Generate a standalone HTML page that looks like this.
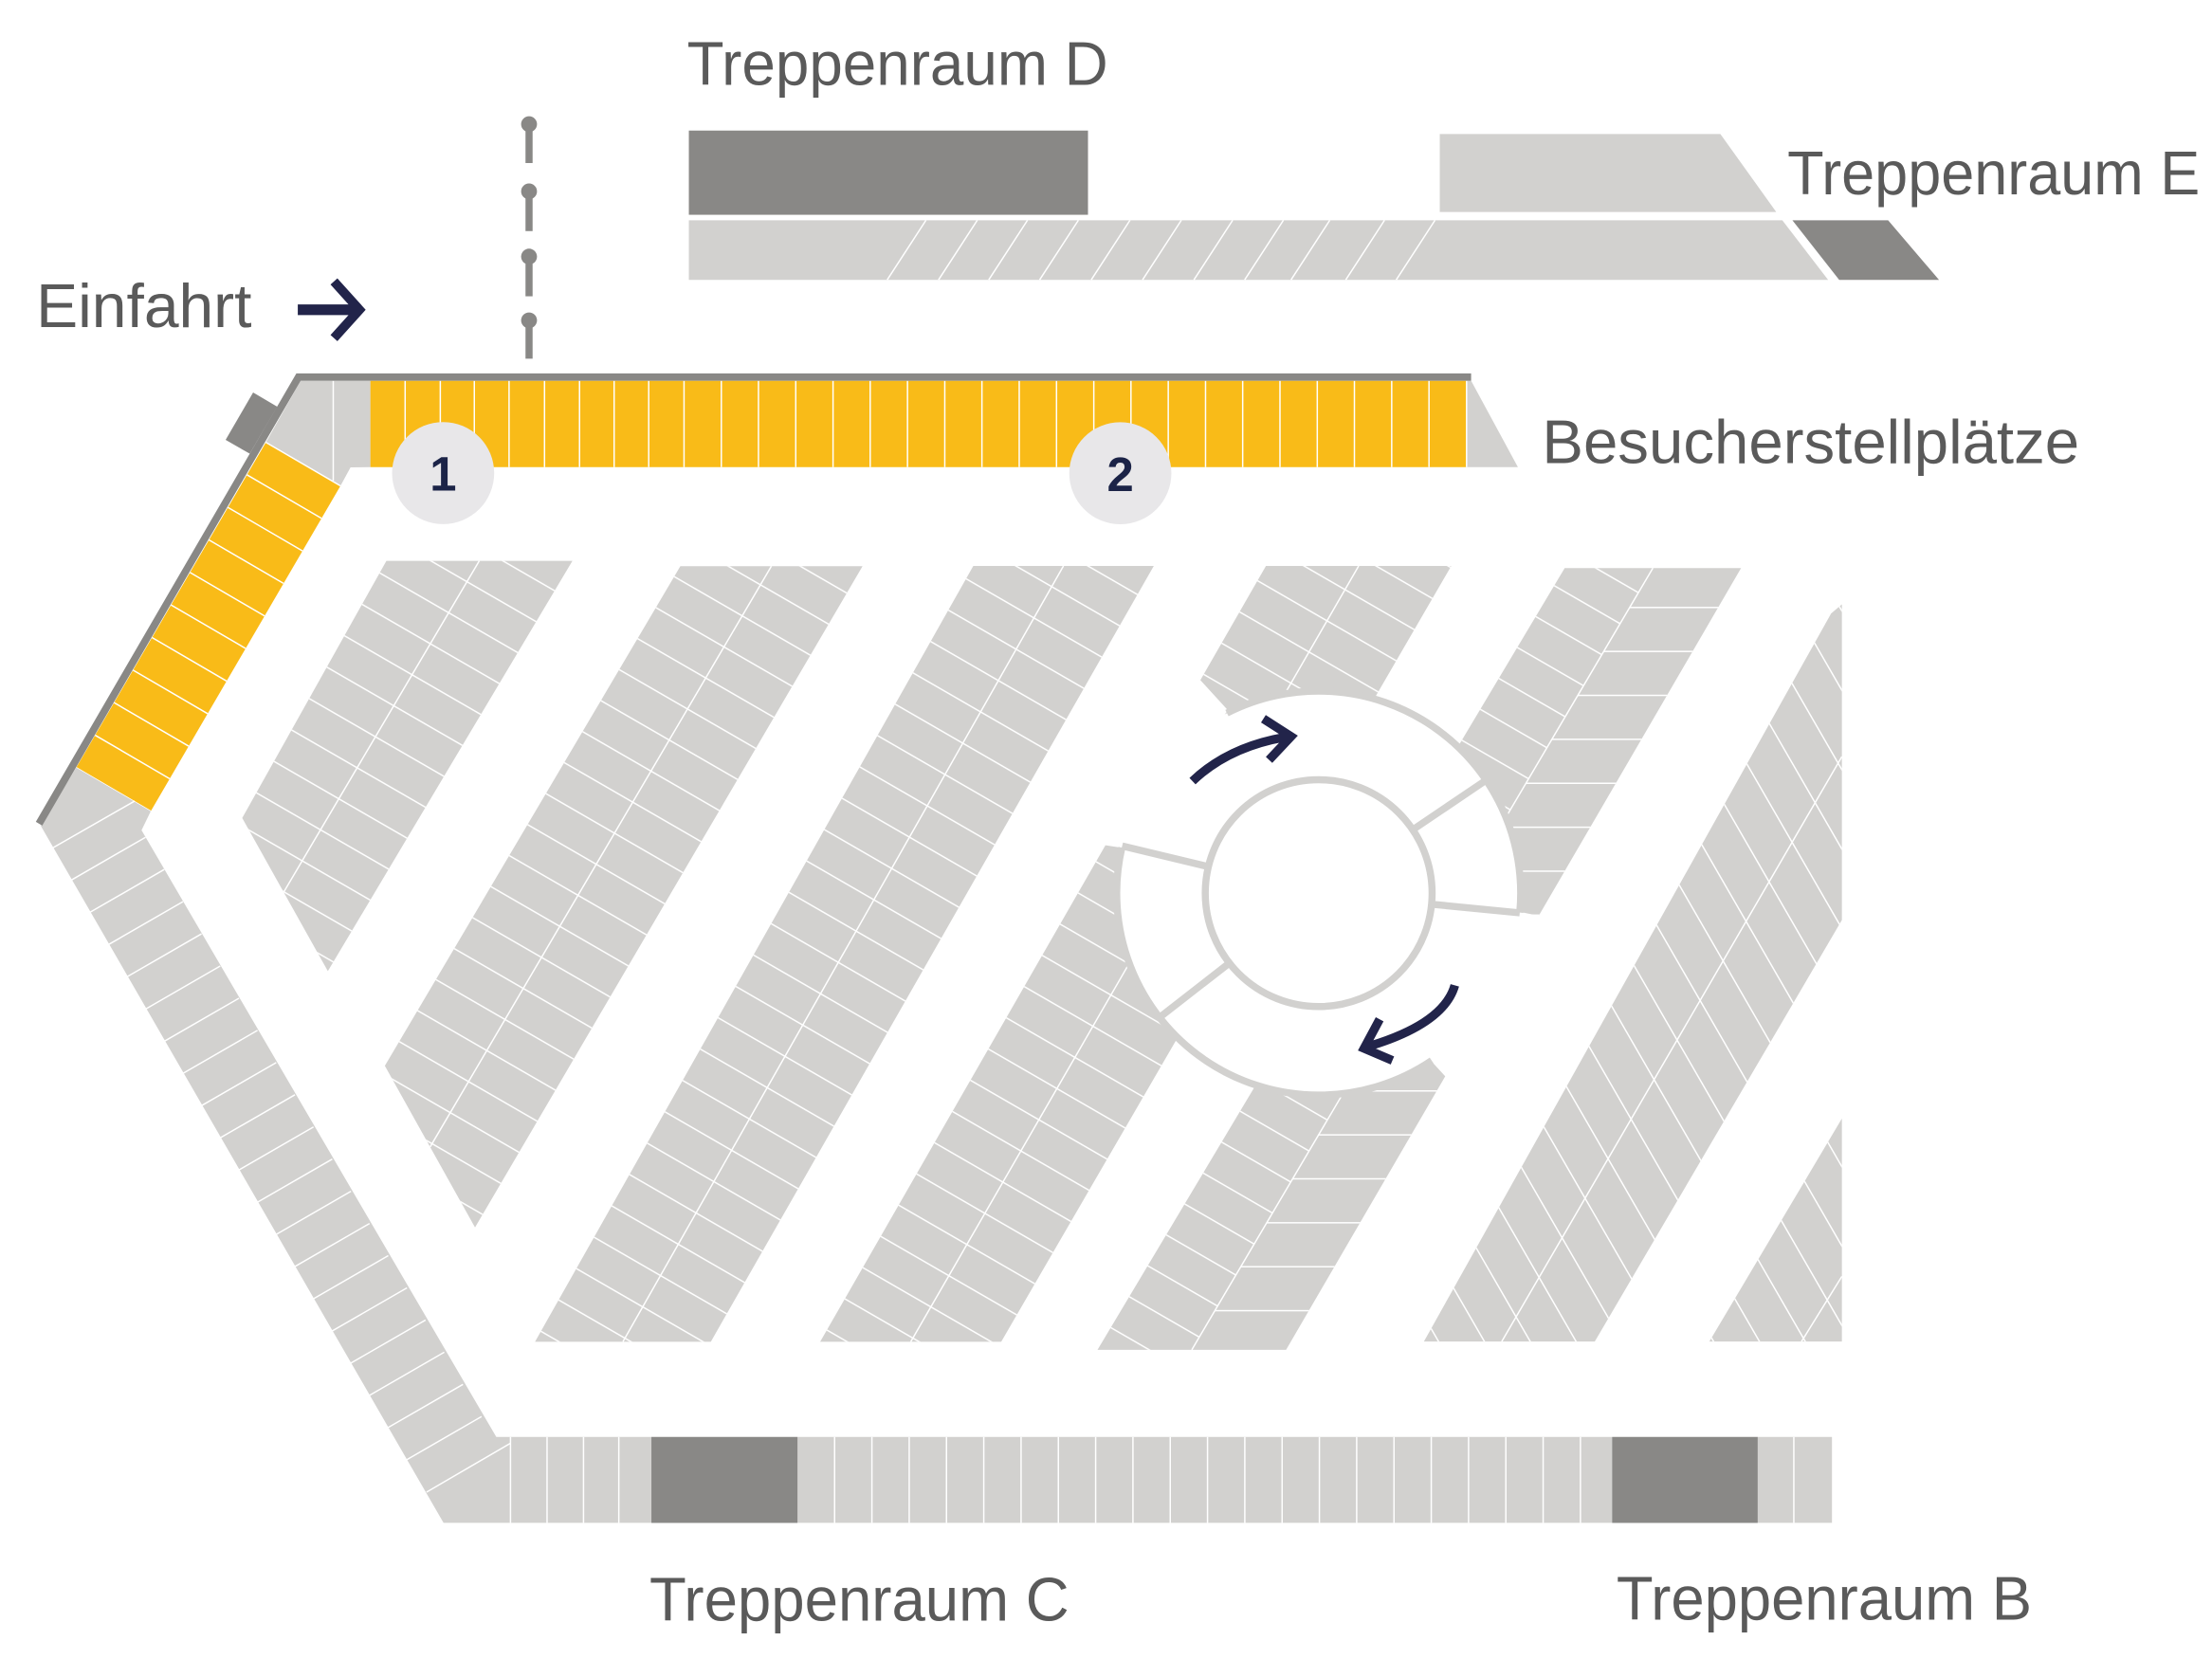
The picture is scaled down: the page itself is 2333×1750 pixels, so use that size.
<!DOCTYPE html>
<html><head><meta charset="utf-8"><style>html,body{margin:0;padding:0;background:#fff;}svg{display:block}</style></head>
<body>
<svg xmlns="http://www.w3.org/2000/svg" width="2333" height="1750" viewBox="0 0 1560 1170.2">
<defs>
<pattern id="pp" patternUnits="userSpaceOnUse" width="25.4" height="50" patternTransform="rotate(-60)"><rect x="12" y="0" width="1" height="50" fill="#fff"/></pattern>
<pattern id="ps" patternUnits="userSpaceOnUse" width="28" height="50" patternTransform="rotate(-30)"><rect x="13" y="0" width="1" height="50" fill="#fff"/></pattern>
<pattern id="ph" patternUnits="userSpaceOnUse" width="50" height="31" patternTransform="translate(0,10)"><rect x="0" y="15" width="50" height="1" fill="#fff"/></pattern>
</defs>
<rect width="1560" height="1170.2" fill="#fff"/>

<g font-family="Liberation Sans, Arial, sans-serif" font-size="43.5" fill="#5a5a5a">
<text x="484.5" y="60" textLength="297" lengthAdjust="spacingAndGlyphs">Treppenraum D</text>
<text x="1260.5" y="137.1" textLength="291" lengthAdjust="spacingAndGlyphs">Treppenraum E</text>
<text x="25.5" y="230.7" textLength="152" lengthAdjust="spacingAndGlyphs">Einfahrt</text>
<text x="1087.5" y="326.8" textLength="379" lengthAdjust="spacingAndGlyphs">Besucherstellplätze</text>
<text x="458" y="1143" textLength="296" lengthAdjust="spacingAndGlyphs">Treppenraum C</text>
<text x="1140" y="1142.5" textLength="293" lengthAdjust="spacingAndGlyphs">Treppenraum B</text>
</g>

<rect x="485.8" y="92.1" width="281.5" height="59.4" fill="#898886"/>
<polygon points="1015.4,94.5 1213.3,94.5 1252.7,149.5 1015.4,149.5" fill="#d2d1cf"/>
<polygon points="485.8,155.4 1257,155.4 1289.3,197.4 485.8,197.4" fill="#d2d1cf"/>
<polygon points="1264.1,155.4 1331.6,155.4 1367.5,197.4 1297.1,197.4" fill="#898886"/>
<g stroke="#fff" stroke-width="1">
<line x1="653" y1="155.4" x2="625.7" y2="197.4"/>
<line x1="689.2" y1="155.4" x2="661.9" y2="197.4"/>
<line x1="724.6" y1="155.4" x2="697.3" y2="197.4"/>
<line x1="760.5" y1="155.4" x2="733.2" y2="197.4"/>
<line x1="796.9" y1="155.4" x2="769.6" y2="197.4"/>
<line x1="833.1" y1="155.4" x2="805.8" y2="197.4"/>
<line x1="869.3" y1="155.4" x2="842" y2="197.4"/>
<line x1="905.1" y1="155.4" x2="877.8" y2="197.4"/>
<line x1="937.8" y1="155.4" x2="910.5" y2="197.4"/>
<line x1="976.4" y1="155.4" x2="949.1" y2="197.4"/>
<line x1="1012" y1="155.4" x2="984.7" y2="197.4"/>
</g>

<g fill="#898886">
<circle cx="373.1" cy="87.6" r="5.6"/><rect x="370.6" y="87.6" width="5" height="27.4"/>
<circle cx="373.1" cy="135" r="5.6"/><rect x="370.6" y="135" width="5" height="28"/>
<circle cx="373.1" cy="181" r="5.6"/><rect x="370.6" y="181" width="5" height="28"/>
<circle cx="373.1" cy="226" r="5.6"/><rect x="370.6" y="226" width="5" height="27"/>
</g>

<g stroke="#22244a" fill="none">
<line x1="210" y1="218.5" x2="252" y2="218.5" stroke-width="7.5"/>
<path d="M235.5,198.5 L253.5,218.5 L235.5,238.5" stroke-width="6.5" stroke-linejoin="miter"/>
</g>

<polygon points="212,268.6 261.2,268.6 261.2,329.5 247.2,329.7 240.1,342.7 187.5,312" fill="#d2d1cf"/>
<line x1="235" y1="268.6" x2="235" y2="339" stroke="#fff" stroke-width="1"/>

<rect x="261.2" y="268.6" width="773.1" height="60.9" fill="#f9bb18"/>
<polygon points="1034.3,268.6 1037.5,268.6 1070.5,329.5 1034.3,329.5" fill="#d2d1cf"/>
<g stroke="#fff" stroke-width="1">
<line x1="285.7" y1="268.6" x2="285.7" y2="329.5"/><line x1="310.5" y1="268.6" x2="310.5" y2="329.5"/>
<line x1="334.5" y1="268.6" x2="334.5" y2="329.5"/><line x1="359" y1="268.6" x2="359" y2="329.5"/>
<line x1="384" y1="268.6" x2="384" y2="329.5"/><line x1="408.7" y1="268.6" x2="408.7" y2="329.5"/>
<line x1="433.1" y1="268.6" x2="433.1" y2="329.5"/><line x1="457.5" y1="268.6" x2="457.5" y2="329.5"/>
<line x1="482.4" y1="268.6" x2="482.4" y2="329.5"/><line x1="508.7" y1="268.6" x2="508.7" y2="329.5"/>
<line x1="534.9" y1="268.6" x2="534.9" y2="329.5"/><line x1="561.2" y1="268.6" x2="561.2" y2="329.5"/>
<line x1="587.5" y1="268.6" x2="587.5" y2="329.5"/><line x1="613.7" y1="268.6" x2="613.7" y2="329.5"/>
<line x1="640" y1="268.6" x2="640" y2="329.5"/><line x1="666.3" y1="268.6" x2="666.3" y2="329.5"/>
<line x1="692.5" y1="268.6" x2="692.5" y2="329.5"/><line x1="718.8" y1="268.6" x2="718.8" y2="329.5"/>
<line x1="745.1" y1="268.6" x2="745.1" y2="329.5"/><line x1="771.4" y1="268.6" x2="771.4" y2="329.5"/>
<line x1="797.6" y1="268.6" x2="797.6" y2="329.5"/><line x1="823.9" y1="268.6" x2="823.9" y2="329.5"/>
<line x1="850.2" y1="268.6" x2="850.2" y2="329.5"/><line x1="876.4" y1="268.6" x2="876.4" y2="329.5"/>
<line x1="902.7" y1="268.6" x2="902.7" y2="329.5"/><line x1="929" y1="268.6" x2="929" y2="329.5"/>
<line x1="955.2" y1="268.6" x2="955.2" y2="329.5"/><line x1="981.5" y1="268.6" x2="981.5" y2="329.5"/>
<line x1="1007.8" y1="268.6" x2="1007.8" y2="329.5"/><line x1="1034.3" y1="268.6" x2="1034.3" y2="329.5"/>
</g>

<polygon points="187.5,312 240.1,342.7 106.3,572.2 53.7,541.5" fill="#f9bb18"/>
<g stroke="#fff" stroke-width="1">
<line x1="187.5" y1="312" x2="240.1" y2="342.7"/>
<line x1="174.1" y1="334.9" x2="226.7" y2="365.6"/>
<line x1="160.7" y1="357.9" x2="213.3" y2="388.6"/>
<line x1="147.3" y1="380.8" x2="199.9" y2="411.5"/>
<line x1="134" y1="403.8" x2="186.6" y2="434.5"/>
<line x1="120.6" y1="426.7" x2="173.2" y2="457.4"/>
<line x1="107.2" y1="449.7" x2="159.8" y2="480.4"/>
<line x1="93.8" y1="472.7" x2="146.4" y2="503.4"/>
<line x1="80.4" y1="495.6" x2="133" y2="526.3"/>
<line x1="67.1" y1="518.6" x2="119.7" y2="549.3"/>
<line x1="53.7" y1="541.5" x2="106.3" y2="572.2"/>
</g>

<polygon points="53.7,541.5 28.8,582.6 312.8,1074.2 1292,1074.2 1292,1013.6 350,1013.6 99.8,585.6 106.3,572.2" fill="#d2d1cf"/>
<rect x="459.4" y="1013.6" width="103" height="60.6" fill="#898886"/>
<rect x="1137" y="1013.6" width="102.6" height="60.6" fill="#898886"/>
<g stroke="#fff" stroke-width="1">
<line x1="36.8" y1="598.3" x2="95" y2="565"/>
<line x1="49.9" y1="621" x2="102.6" y2="590.6"/>
<line x1="63.1" y1="643.7" x2="115.8" y2="613.3"/>
<line x1="76.3" y1="666.4" x2="129" y2="636"/>
<line x1="89.4" y1="689.1" x2="142.1" y2="658.7"/>
<line x1="102.6" y1="711.8" x2="155.3" y2="681.4"/>
<line x1="115.8" y1="734.5" x2="168.5" y2="704.1"/>
<line x1="128.9" y1="757.2" x2="181.6" y2="726.8"/>
<line x1="142.1" y1="779.9" x2="194.8" y2="749.5"/>
<line x1="155.3" y1="802.6" x2="208" y2="772.2"/>
<line x1="168.4" y1="825.3" x2="221.1" y2="794.9"/>
<line x1="181.6" y1="848" x2="234.3" y2="817.6"/>
<line x1="194.8" y1="870.7" x2="247.5" y2="840.3"/>
<line x1="207.9" y1="893.4" x2="260.6" y2="863"/>
<line x1="221.1" y1="916.1" x2="273.8" y2="885.7"/>
<line x1="234.3" y1="938.8" x2="287" y2="908.4"/>
<line x1="247.4" y1="961.5" x2="300.1" y2="931.1"/>
<line x1="260.6" y1="984.2" x2="313.3" y2="953.8"/>
<line x1="273.8" y1="1006.9" x2="326.5" y2="976.5"/>
<line x1="286.9" y1="1029.6" x2="339.6" y2="999.2"/>
<line x1="300.8" y1="1052.5" x2="360" y2="1018"/>
<line x1="360" y1="1013.6" x2="360" y2="1074.2"/>
<line x1="385.8" y1="1013.6" x2="385.8" y2="1074.2"/>
<line x1="411.5" y1="1013.6" x2="411.5" y2="1074.2"/>
<line x1="436.4" y1="1013.6" x2="436.4" y2="1074.2"/>
<line x1="588.6" y1="1013.6" x2="588.6" y2="1074.2"/>
<line x1="614.9" y1="1013.6" x2="614.9" y2="1074.2"/>
<line x1="641.2" y1="1013.6" x2="641.2" y2="1074.2"/>
<line x1="667.5" y1="1013.6" x2="667.5" y2="1074.2"/>
<line x1="693.8" y1="1013.6" x2="693.8" y2="1074.2"/>
<line x1="720.1" y1="1013.6" x2="720.1" y2="1074.2"/>
<line x1="746.4" y1="1013.6" x2="746.4" y2="1074.2"/>
<line x1="772.7" y1="1013.6" x2="772.7" y2="1074.2"/>
<line x1="799" y1="1013.6" x2="799" y2="1074.2"/>
<line x1="825.3" y1="1013.6" x2="825.3" y2="1074.2"/>
<line x1="851.6" y1="1013.6" x2="851.6" y2="1074.2"/>
<line x1="877.9" y1="1013.6" x2="877.9" y2="1074.2"/>
<line x1="904.2" y1="1013.6" x2="904.2" y2="1074.2"/>
<line x1="930.5" y1="1013.6" x2="930.5" y2="1074.2"/>
<line x1="956.8" y1="1013.6" x2="956.8" y2="1074.2"/>
<line x1="983.1" y1="1013.6" x2="983.1" y2="1074.2"/>
<line x1="1009.4" y1="1013.6" x2="1009.4" y2="1074.2"/>
<line x1="1035.7" y1="1013.6" x2="1035.7" y2="1074.2"/>
<line x1="1062" y1="1013.6" x2="1062" y2="1074.2"/>
<line x1="1088.3" y1="1013.6" x2="1088.3" y2="1074.2"/>
<line x1="1114.6" y1="1013.6" x2="1114.6" y2="1074.2"/>
<line x1="1265.1" y1="1013.6" x2="1265.1" y2="1074.2"/>
</g>

<polyline points="1037.5,266 210.5,266 27.5,581" fill="none" stroke="#898886" stroke-width="5.2" stroke-linejoin="miter"/>
<polygon points="178.5,276.8 195.5,286.9 176.1,320 159.1,310.3" fill="#898886"/>

<g fill="#d2d1cf">
<polygon points="272.5,395.6 403.7,395.6 231.2,685 170.8,577"/>
<polygon points="479.8,399.4 608.3,399.4 335,865.8 271.4,751.8"/>
<polygon points="686.4,399.2 813.7,399.2 501.3,946.4 377.3,946.4"/>
<polygon points="892.8,399.2 1023.5,399.2 706.1,946.4 578.4,946.4"/>
<polygon points="1103.5,400.7 1227.9,400.7 907,952.1 774,952.1"/>
<polygon points="1291.4,432.7 1299,426.3 1299,649 1124.7,946.3 1004.2,946.3"/>
<polygon points="1299,789 1299,946.3 1205.5,946.3"/>
</g>
<g fill="url(#pp)">
<polygon points="272.5,395.6 403.7,395.6 231.2,685 170.8,577"/>
<polygon points="479.8,399.4 608.3,399.4 335,865.8 271.4,751.8"/>
<polygon points="686.4,399.2 813.7,399.2 501.3,946.4 377.3,946.4"/>
<polygon points="892.8,399.2 1023.5,399.2 706.1,946.4 578.4,946.4"/>
<polygon points="1103.5,400.7 1165.7,400.7 840.5,952.1 774,952.1"/>
</g>
<polygon points="1165.7,400.7 1227.9,400.7 907,952.1 840.5,952.1" fill="url(#ph)"/>
<g fill="url(#ps)">
<polygon points="1291.4,432.7 1299,426.3 1299,649 1124.7,946.3 1004.2,946.3"/>
<polygon points="1299,789 1299,946.3 1205.5,946.3"/>
</g>
<g stroke="#fff" stroke-width="1">
<line x1="338" y1="395.6" x2="200" y2="629.4"/>
<line x1="544" y1="399.4" x2="303.4" y2="808.9"/>
<line x1="750" y1="399.2" x2="439.3" y2="946.4"/>
<line x1="958.2" y1="399.2" x2="642.3" y2="946.4"/>
<line x1="1165.7" y1="400.7" x2="840.5" y2="952.1"/>
<line x1="1299" y1="533.7" x2="1059.1" y2="946.3"/>
<line x1="1299" y1="900.3" x2="1270.5" y2="946.3"/>
</g>

<polygon points="845,478 866,501 791,598 778,596" fill="#fff"/>
<polygon points="1071,643 1100,649 1020,760 1009,748" fill="#fff"/>

<circle cx="930" cy="630" r="142.5" fill="#fff"/>
<g fill="none" stroke="#d2d1cf" stroke-width="5">
<path d="M865.3,503 A142.5,142.5 0 0 1 1071.8,643.7"/>
<path d="M1009.7,748.1 A142.5,142.5 0 0 1 791.2,597.9"/>
<circle cx="930" cy="630" r="80" fill="#fff"/>
<line x1="996.3" y1="585.3" x2="1048.1" y2="550.3"/>
<line x1="1009.6" y1="637.8" x2="1071.8" y2="643.9"/>
<line x1="852.2" y1="611.3" x2="791.4" y2="596.7"/>
<line x1="867" y1="679.3" x2="817.7" y2="717.7"/>
</g>

<g fill="none" stroke="#22244a" stroke-width="6.2" stroke-linejoin="miter">
<path d="M841,551 Q866,527 906,520"/>
<path d="M891,507 L910.5,519.5 L895,536"/>
<path d="M1026,695 Q1018,723 962,739"/>
<path d="M973,719 L962,739.5 L982,748"/>
</g>

<circle cx="312.5" cy="333.7" r="36" fill="#e8e7e9"/>
<circle cx="790.1" cy="333.8" r="36" fill="#e8e7e9"/>
<g font-family="Liberation Sans, Arial, sans-serif" font-weight="bold" font-size="34" fill="#1b2347" text-anchor="middle">
<text x="312.5" y="346">1</text>
<text x="790.1" y="346.3">2</text>
</g>
</svg>
</body></html>
